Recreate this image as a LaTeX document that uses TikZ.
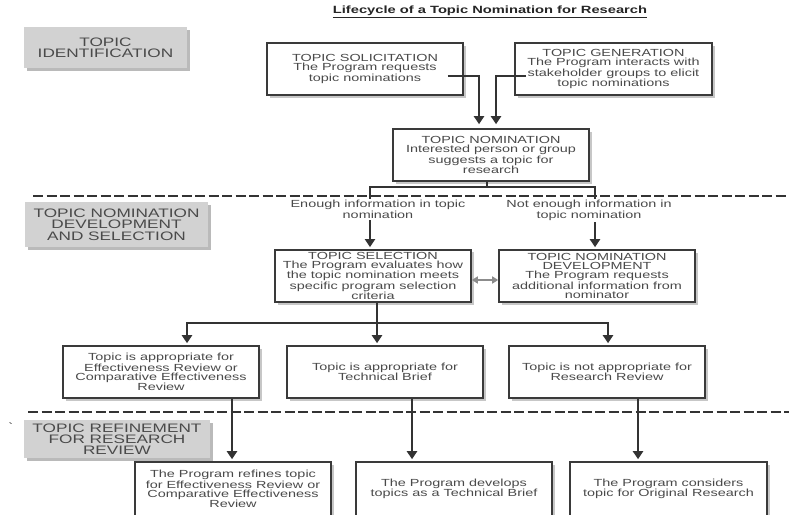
\documentclass[tikz,border=0pt]{standalone}
\usepackage{fontspec}
\setmainfont{Liberation Sans}[FakeStretch=1.4]
\usetikzlibrary{arrows.meta,calc,shadows}

\definecolor{boxline}{HTML}{3A3A3A}
\definecolor{txt}{HTML}{4A4A4A}
\definecolor{sectfill}{HTML}{D2D2D2}
\definecolor{lineclr}{HTML}{333333}
\definecolor{dblclr}{HTML}{8C8C8C}

\newcommand\bxfont{\fontsize{10.3}{9}\selectfont}
\newcommand\scfont{\fontsize{12.3}{11.3}\selectfont}
\newcommand\ttlfont{\fontsize{10.5}{11}\selectfont\bfseries}

\begin{document}
\begin{tikzpicture}[x=1pt,y=-1pt,
  box/.style={draw=boxline, line width=1.6pt, fill=white,
    minimum width=196pt, minimum height=52pt, inner sep=2pt,
    align=center, font=\bxfont, text=txt,
    drop shadow={shadow xshift=2.5pt, shadow yshift=-2.5pt, fill=black!40, opacity=0.55}},
  sect/.style={fill=sectfill, inner sep=1pt, align=center, font=\scfont, text=txt,
    drop shadow={shadow xshift=3pt, shadow yshift=-3pt, fill=black!45, opacity=0.6}},
  lbl/.style={fill=white, inner sep=1pt, align=center, font=\bxfont, text=txt},
  line/.style={draw=lineclr, line width=2pt},
  conn/.style={line, -{Triangle[width=10pt,length=8pt]}, shorten >=2pt},
  dbl/.style={draw=dblclr, line width=1.6pt,
    {Triangle[width=7pt,length=6pt]}-{Triangle[width=7pt,length=6pt]}},
  divider/.style={draw=lineclr, line width=2.5pt, dash pattern=on 10pt off 3.5pt}
]
\fill[white] (0,0) rectangle (789,514);
\useasboundingbox (0,0) rectangle (789,514);

% title
\node[font=\ttlfont, text=black!85] (title) at (490,12)
  {\underline{Lifecycle of a Topic Nomination for Research}};

% phase dividers
\draw[divider] (33,196) -- (789,196);
\draw[divider] (28,412) -- (789,412);

% phase labels
\node[sect, minimum width=163pt, minimum height=41pt] (phase1) at (105.5,47.5)
  {TOPIC\\IDENTIFICATION};
\node[sect, minimum width=183pt, minimum height=45pt] (phase2) at (116.5,224.5)
  {TOPIC NOMINATION\\DEVELOPMENT\\AND SELECTION};
\node[sect, minimum width=186pt, minimum height=38pt] (phase3) at (117,439)
  {TOPIC REFINEMENT\\FOR RESEARCH\\REVIEW};
\node[font=\bxfont, text=black!80] (tick) at (10,427) {\textasciigrave};

% identification
\node[box] (sol) at (365,69)
  {TOPIC SOLICITATION\\The Program requests\\topic nominations};
\node[box, minimum width=197pt] (gen) at (613.5,69)
  {TOPIC GENERATION\\The Program interacts with\\stakeholder groups to elicit\\topic nominations};
\node[box] (nom) at (491,155)
  {TOPIC NOMINATION\\Interested person or group\\suggests a topic for\\research};

\draw[conn, shorten >=4pt] ($(sol.east)+(-16,7)$) -| ($(nom.north)+(-12,0)$);
\draw[conn, shorten >=4pt] ($(gen.west)+(12,7)$) -| ($(nom.north)+(5,0)$);

% development and selection
\node[box] (sel) at (373,276)
  {TOPIC SELECTION\\The Program evaluates how\\the topic nomination meets\\specific program selection\\criteria};
\node[box] (dev) at (597,276)
  {TOPIC NOMINATION\\DEVELOPMENT\\The Program requests\\additional information from\\nominator};

\coordinate (jm) at (487,187);
\coordinate (jl) at (370,187);
\coordinate (jr) at (595,187);
\draw[line] (nom.south -| jm) -- (jm);
\draw[conn] (jr) -- (jl) -- (jl |- sel.north);
\draw[conn] (jl) -- (jr) -- (jr |- dev.north);

\node[lbl] (enough) at (378,209.5) {Enough information in topic\\nomination};
\node[lbl] (notenough) at (589,210.5) {Not enough information in\\topic nomination};

\draw[dbl] ($(sel.east)+(0,4)$) -- ($(dev.west)+(0,4)$);

% outcomes
\node[box] (ra) at (161,372)
  {Topic is appropriate for\\Effectiveness Review or\\Comparative Effectiveness\\Review};
\node[box] (rb) at (385,372)
  {Topic is appropriate for\\Technical Brief};
\node[box] (rc) at (607,372)
  {Topic is not appropriate for\\Research Review};

\coordinate (bl) at (187,323);
\coordinate (bm) at (377,323);
\coordinate (br) at (608,323);
\draw[conn] (sel.south -| bm) -- (bm |- rb.north);
\draw[conn] (br) -- (bl) -- (bl |- ra.north);
\draw[conn] (bl) -- (br) -- (br |- rc.north);

% refinement
\node[box, minimum height=54pt] (fa) at (233,489)
  {The Program refines topic\\for Effectiveness Review or\\Comparative Effectiveness\\Review};
\node[box, minimum height=54pt] (fb) at (454,489)
  {The Program develops\\topics as a Technical Brief};
\node[box, minimum height=54pt, minimum width=197pt] (fc) at (668.5,489)
  {The Program considers\\topic for Original Research};

\draw[conn] ([xshift=71pt]ra.south) -- ([xshift=71pt]ra.south |- fa.north);
\draw[conn] ([xshift=27pt]rb.south) -- ([xshift=27pt]rb.south |- fb.north);
\draw[conn] ([xshift=31pt]rc.south) -- ([xshift=31pt]rc.south |- fc.north);
\end{tikzpicture}
\end{document}
